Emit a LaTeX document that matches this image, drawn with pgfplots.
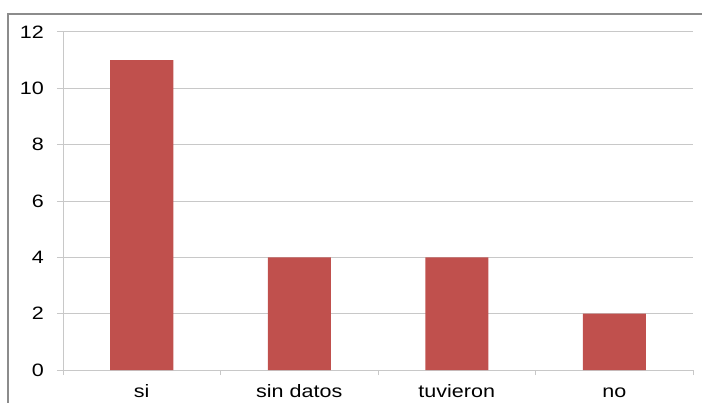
\documentclass[border=0pt]{standalone}
\usepackage{fontspec}
\setmainfont{Liberation Sans}
\usepackage{pgfplots}
\pgfplotsset{compat=1.18}
\definecolor{barred}{HTML}{C0504D}
\definecolor{gridgray}{HTML}{C8C8C8}
\definecolor{framegray}{HTML}{8C8C8C}
\newcommand{\wide}[1]{\scalebox{1.2}[1]{#1}}

\begin{document}
\begin{tikzpicture}
\begin{axis}[
    scale only axis,
    width=630bp, height=338bp,
    xmin=0.5, xmax=4.5,
    ymin=0, ymax=12,
    ytick={0,2,...,12},
    xtick={1,2,3,4},
    xticklabels={\wide{si},\wide{sin datos},\wide{tuvieron},\wide{no}},
    minor xtick={0.5,1.5,2.5,3.5,4.5},
    axis x line*=bottom,
    axis y line*=left,
    axis line style={gridgray, line width=1pt, -},
    ymajorgrids,
    grid style={gridgray, line width=1pt},
    tick align=outside,
    tick style={gridgray, line width=1pt},
    major tick length=6bp,
    minor tick length=5bp,
    xtick style={draw=none},
    minor x tick style={draw=gridgray},
    /pgf/number format/assume math mode=true,
    ticklabel style={font=\fontsize{18}{18}\selectfont, text=black},
    yticklabel={\wide{\pgfmathprintnumber{\tick}}},
    yticklabel style={inner sep=0pt, xshift=-13bp},
    xticklabel style={inner sep=0pt, anchor=base, yshift=-21bp},
    ybar, bar width=63bp,
]
\addplot[fill=barred, draw=none] coordinates {(1,11) (2,4) (3,4) (4,2)};
\end{axis}
\draw[framegray, line width=1.3bp] (-55bp,-40bp) -- (-55bp,356bp) -- (650bp,356bp);
\pgfresetboundingbox
\path[use as bounding box] (-63bp,-33bp) rectangle (639bp,370bp);
\end{tikzpicture}
\end{document}
